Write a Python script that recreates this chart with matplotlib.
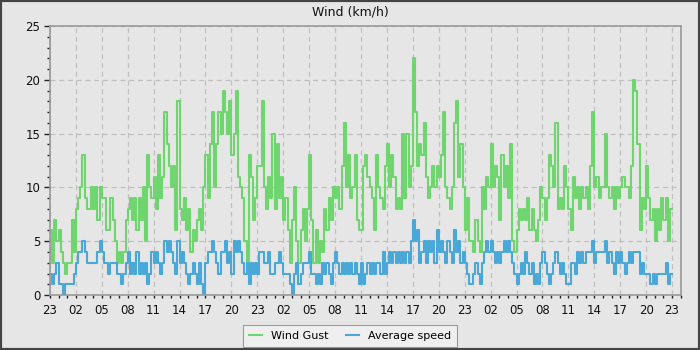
import numpy as np
import matplotlib
matplotlib.use("Agg")
import matplotlib.pyplot as plt
from matplotlib.ticker import FixedLocator, MultipleLocator

# 15-minute samples, starting 23:00 on day 1 (72 hours)
gust = [
    6, 3, 7, 5,   6, 4, 3, 2,   3, 3, 7, 4,   8, 9, 10, 13,
    9, 8, 8, 10,  8, 10, 7, 10, 9, 9, 6, 6,   9, 7, 5, 3,
    4, 3, 4, 7,   8, 9, 7, 9,   6, 9, 7, 10,  5, 13, 10, 9,
    11, 8, 13, 9, 11, 17, 14, 12, 10, 12, 6, 18, 8, 7, 9, 6,
    8, 4, 6, 5,   7, 8, 6, 10,  13, 9, 14, 17, 10, 14, 17, 15,
    19, 17, 15, 18, 13, 15, 19, 11, 10, 9, 5, 3, 13, 11, 7, 9,
    12, 12, 18, 10, 8, 11, 9, 15, 8, 14, 9, 11, 7, 9, 6, 3,
    7, 10, 5, 3,  6, 8, 5, 8,   13, 7, 3, 6,  3, 5, 4, 8,
    6, 9, 7, 10,  9, 10, 8, 12, 16, 10, 13, 9, 10, 13, 7, 6,
    6, 12, 13, 11, 10, 9, 6, 13, 10, 9, 8, 12, 14, 10, 13, 11,
    8, 9, 8, 15,  9, 15, 10, 12, 22, 17, 12, 14, 13, 16, 11, 9,
    10, 12, 10, 12, 11, 13, 17, 10, 9, 8, 10, 16, 18, 11, 14, 10,
    6, 9, 5, 5,   4, 7, 5, 4,   10, 8, 11, 10, 14, 10, 12, 11,
    7, 13, 10, 12, 9, 14, 5, 4, 6, 8, 7, 8,   7, 9, 6, 8,
    6, 5, 7, 10,  9, 7, 9, 13,  12, 10, 16, 8, 9, 8, 12, 10,
    8, 6, 11, 9,  10, 8, 10, 9, 10, 8, 12, 17, 10, 11, 9, 10,
    10, 15, 10, 9, 10, 8, 10, 9, 10, 11, 10, 10, 9, 12, 20, 19,
    14, 6, 9, 8,  12, 9, 7, 8,  5, 8, 6, 9,   7, 9, 5, 8,
]

avg = [
    2, 1, 2, 3,  1, 1, 0, 1,  1, 1, 1, 2,  3, 4, 4, 5,
    4, 3, 3, 3,  3, 3, 4, 5,  4, 3, 3, 2,  3, 3, 3, 2,
    2, 1, 2, 3,  4, 2, 3, 2,  4, 2, 3, 2,  3, 1, 2, 4,
    3, 4, 3, 2,  3, 5, 4, 5,  4, 3, 2, 5,  3, 4, 3, 2,
    1, 2, 3, 2,  1, 3, 1, 0,  3, 4, 4, 5,  4, 3, 2, 4,
    4, 5, 3, 4,  2, 5, 4, 5,  4, 3, 2, 3,  1, 3, 2, 3,
    2, 4, 4, 3,  3, 4, 2, 2,  3, 3, 4, 3,  2, 2, 2, 1,
    0, 2, 3, 1,  2, 3, 3, 3,  4, 2, 2, 1,  2, 1, 3, 2,
    3, 2, 1, 3,  4, 3, 2, 3,  2, 3, 2, 3,  2, 3, 2, 1,
    3, 1, 2, 3,  2, 3, 2, 3,  3, 2, 4, 2,  3, 4, 3, 4,
    3, 4, 3, 4,  3, 4, 3, 5,  7, 5, 6, 3,  4, 5, 3, 5,
    4, 5, 3, 6,  4, 5, 4, 3,  5, 4, 3, 6,  4, 5, 3, 4,
    3, 2, 1, 1,  2, 3, 2, 1,  3, 4, 5, 4,  5, 4, 3, 4,
    3, 4, 5, 4,  5, 4, 3, 2,  1, 2, 3, 2,  4, 3, 2, 3,
    1, 2, 1, 3,  4, 3, 2, 1,  2, 3, 4, 3,  2, 3, 2, 1,
    1, 3, 3, 2,  4, 3, 4, 3,  4, 4, 4, 5,  3, 4, 4, 4,
    4, 5, 3, 4,  3, 2, 4, 3,  4, 3, 2, 3,  4, 3, 4, 4,
    4, 2, 3, 2,  2, 2, 1, 2,  1, 2, 2, 2,  2, 3, 1, 2,
]

tick_labels = ["23", "02", "05", "08", "11", "14", "17", "20"] * 3 + ["23"]
series_names = ["Wind Gust", "Average speed"]
title = "Wind (km/h)"

BG = "#e6e6e6"
GREEN = "#6fd56f"
BLUE = "#4aa8d8"

t = np.arange(len(gust)) * 0.25
t_ext = np.append(t, t[-1] + 0.25)
g_ext = np.append(gust, gust[-1])
a_ext = np.append(avg, avg[-1])

fig = plt.figure(figsize=(7, 3.5), dpi=100, facecolor=BG)
fig.patches.append(plt.Rectangle((0, 0), 1, 1, transform=fig.transFigure,
                                 fill=False, edgecolor="#444444", linewidth=3.0))
ax = fig.add_axes([0.0714, 0.157, 0.9010, 0.7687])
ax.set_facecolor(BG)

ax.step(t_ext, g_ext, where="post", color=GREEN, lw=1.5, label=series_names[0])
ax.step(t_ext, a_ext, where="post", color=BLUE, lw=1.5, label=series_names[1])

ax.set_xlim(0, 73)
ax.set_ylim(0, 25)
ax.xaxis.set_major_locator(FixedLocator(np.arange(0, 73, 3)))
ax.set_xticklabels(tick_labels)
ax.xaxis.set_minor_locator(MultipleLocator(1))
ax.yaxis.set_major_locator(MultipleLocator(5))
ax.yaxis.set_minor_locator(MultipleLocator(1))

ax.grid(True, which="major", color="#c0c0c0", linestyle=(0, (4, 3)), linewidth=0.9)
ax.set_axisbelow(True)
for s in ax.spines.values():
    s.set_color("#999999")
    s.set_linewidth(1.2)
ax.tick_params(axis="both", which="major", length=4, width=1, color="#222222",
               labelsize=8.5, labelcolor="#111111", pad=2)
ax.tick_params(axis="both", which="minor", length=2.5, width=1, color="#222222")
ax.tick_params(axis="x", which="major", length=2.5, pad=4)
ax.tick_params(axis="y", which="major", pad=3)

fig.text(0.5, 0.965, title, ha="center", va="center", fontsize=9, color="#111111")

handles, labels = ax.get_legend_handles_labels()
leg = fig.legend(handles, labels, loc="center", bbox_to_anchor=(0.5, 0.04), ncol=2,
                 frameon=True, fontsize=8, handlelength=1.2, handletextpad=0.8,
                 columnspacing=1.6, fancybox=False, borderpad=0.5)
leg.get_frame().set_facecolor("#f2f2f2")
leg.get_frame().set_edgecolor("#888888")
leg.get_frame().set_linewidth(0.8)

fig.savefig("out.png", dpi=100, facecolor=BG)
